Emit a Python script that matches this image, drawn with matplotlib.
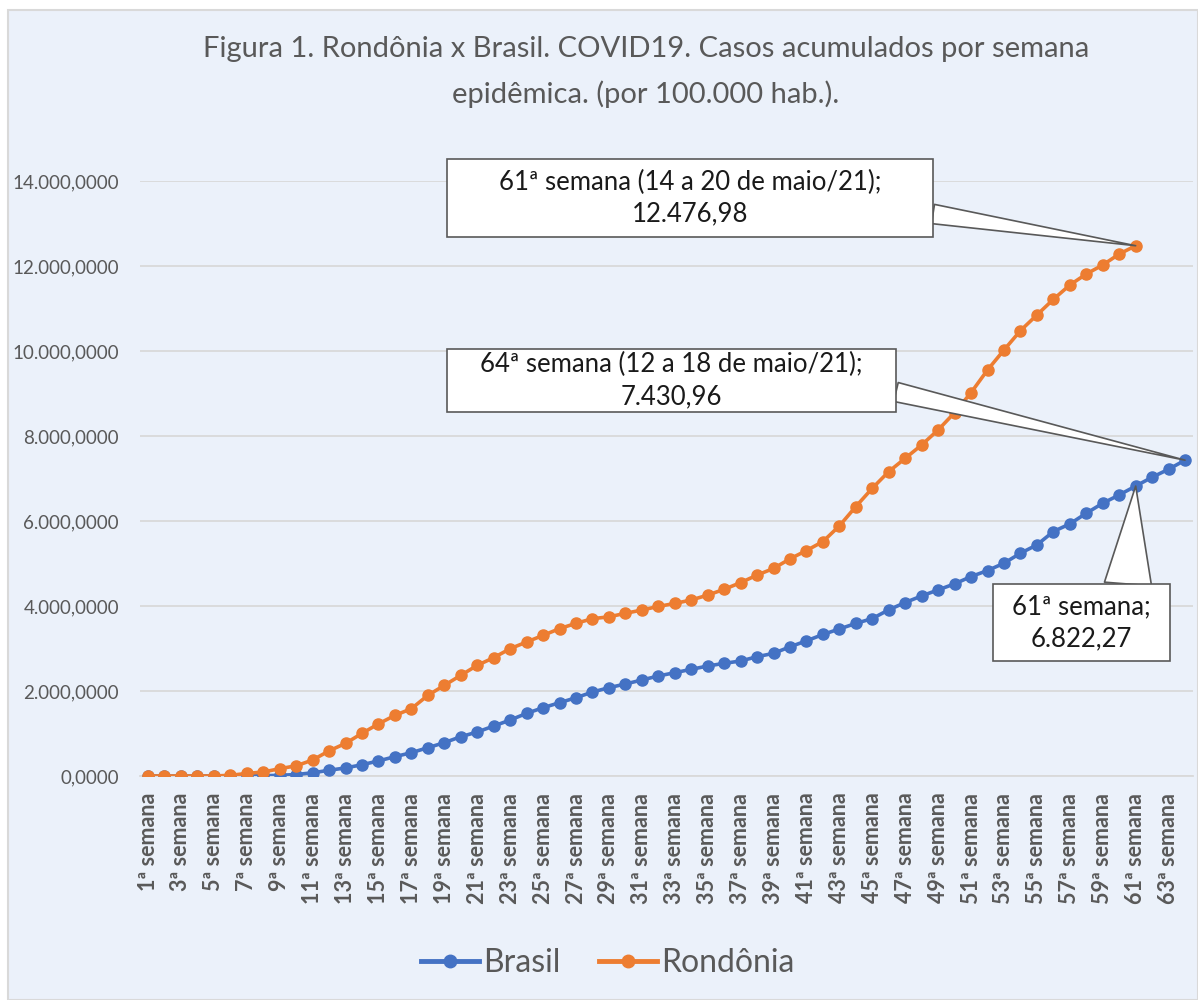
import matplotlib
matplotlib.use("Agg")
import matplotlib.pyplot as plt
from matplotlib.patches import Rectangle
from matplotlib.lines import Line2D
from matplotlib.ticker import FuncFormatter, FixedLocator

plt.rcParams['font.family'] = ['Lato', 'DejaVu Sans']

# casos acumulados por 100.000 hab., semana epidemiologica 1..64 (Brasil) e 1..61 (Rondonia)
brasil = [
    0, 0, 0, 0.1, 0.5, 1, 3, 8, 15, 35,
    75, 135, 190, 265, 355, 455, 549, 666, 784, 925,
    1035, 1176, 1317, 1474, 1607, 1725, 1842, 1976, 2078, 2165,
    2259, 2353, 2431, 2510, 2588, 2651, 2706, 2807, 2886, 3040,
    3180, 3330, 3460, 3590, 3705, 3910, 4082, 4238, 4379, 4521,
    4693, 4834, 5007, 5242, 5438, 5752, 5932, 6183, 6418, 6614,
    6822.27, 7030, 7218, 7430.96,
]
rondonia = [
    0, 0, 0, 0, 1, 16, 60, 94, 172, 240,
    376, 592, 768, 1004, 1227, 1427, 1584, 1898, 2133, 2369,
    2604, 2784, 2996, 3153, 3310, 3467, 3592, 3702, 3745, 3828,
    3905, 3990, 4060, 4142, 4256, 4393, 4550, 4727, 4884, 5110,
    5305, 5516, 5885, 6340, 6771, 7163, 7476, 7790, 8143, 8550,
    9021, 9554, 10024, 10479, 10848, 11216, 11553, 11812, 12024, 12282,
    12476.98,
]
weeks_br = list(range(1, len(brasil) + 1))
weeks_ro = list(range(1, len(rondonia) + 1))
tick_weeks = list(range(1, 64, 2))
tick_labels = [f"{w}ª semana" for w in tick_weeks]

title_lines = ["Figura 1. Rondônia x Brasil. COVID19. Casos acumulados por semana",
               "epidêmica. (por 100.000 hab.)."]

BLUE = "#4472C4"
ORANGE = "#ED7D31"
GRAY = "#595959"
GRID = "#D9D9D9"
BG = "#EBF1FA"

W, H = 1198, 1000


def fx(x):
    return x / W


def fy(y):
    return 1 - y / H


def br_fmt(v, pos=None):
    s = f"{v:,.4f}"
    return s.replace(",", "X").replace(".", ",").replace("X", ".")


fig = plt.figure(figsize=(W / 100, H / 100), dpi=100, facecolor="white")
fig.patches.append(Rectangle((fx(8), 0), fx(W) - fx(8), fy(10), transform=fig.transFigure,
                             facecolor=BG, edgecolor=GRID, lw=1.5, zorder=-10))

ax = fig.add_axes([fx(139.8), fy(776), fx(1053.5), 0.595])
ax.set_facecolor("none")

ax.plot(weeks_br, brasil, color=BLUE, lw=2.6, marker="o", ms=8, label="Brasil", zorder=3)
ax.plot(weeks_ro, rondonia, color=ORANGE, lw=2.6, marker="o", ms=8, label="Rondônia", zorder=4)

ax.set_xlim(0.5, 64.5)
ax.set_ylim(0, 14000)
ax.set_yticks(range(0, 14001, 2000))
ax.yaxis.set_major_formatter(FuncFormatter(br_fmt))
ax.xaxis.set_major_locator(FixedLocator(tick_weeks))
ax.set_xticklabels(tick_labels, rotation=90, fontweight="bold", fontsize=15.5, color=GRAY, va="top")
ax.tick_params(axis="x", length=0, pad=12)
ax.tick_params(axis="y", length=0, pad=15, labelsize=13.5, labelcolor=GRAY)
ax.grid(axis="y", color=GRID, lw=1.3)
ax.set_axisbelow(True)
for side in ["left", "right", "top"]:
    ax.spines[side].set_visible(False)
ax.spines["bottom"].set_color(GRID)
ax.spines["bottom"].set_linewidth(1.3)

for i, line in enumerate(title_lines):
    fig.text(fx(646), fy(49 + 45 * i), line, ha="center", va="center", fontsize=21, color=GRAY)

# callouts: caixa (x0, y0, x1, y1 em px), base da cunha (px), largura, texto, ponto
callouts = [
    ((447, 159, 933, 237), (933, 214), 1.4,
     "61ª semana (14 a 20 de maio/21);\n12.476,98", (weeks_ro[-1], rondonia[-1])),
    ((447, 349, 896, 412), (896, 392), 1.4,
     "64ª semana (12 a 18 de maio/21);\n7.430,96", (weeks_br[-1], brasil[-1])),
    ((993, 584, 1170, 661), (1128, 584), 3.4,
     "61ª semana;\n6.822,27", (weeks_br[60], brasil[60])),
]
for (x0, y0, x1, y1), (bx, by), tw, txt, pt in callouts:
    ax.annotate("", xy=pt, xycoords="data", xytext=(fx(bx), fy(by)), textcoords="figure fraction",
                arrowprops=dict(arrowstyle=f"wedge,tail_width={tw}", mutation_scale=10,
                                fc="white", ec=GRAY, lw=1.2, shrinkA=0, shrinkB=0),
                annotation_clip=False, zorder=6)
    ax.add_patch(Rectangle((fx(x0), fy(y1)), fx(x1 - x0), (y1 - y0) / H, transform=fig.transFigure,
                           facecolor="white", edgecolor=GRAY, lw=1.2, zorder=7, clip_on=False))
    ax.text(fx((x0 + x1) / 2), fy((y0 + y1) / 2), txt, transform=fig.transFigure, ha="center",
            va="center", fontsize=18.5, color="#1a1a1a", linespacing=1.35, zorder=8)

handles = [Line2D([], [], color=BLUE, lw=3.5, marker="o", ms=9),
           Line2D([], [], color=ORANGE, lw=3.5, marker="o", ms=9)]
fig.legend(handles, ["Brasil", "Rondônia"], loc="center", bbox_to_anchor=(fx(608), fy(963)),
           ncol=2, frameon=False, fontsize=23, handlelength=1.8, handletextpad=0.15,
           columnspacing=1.2, labelcolor=GRAY)

fig.savefig("out.png", dpi=100)
